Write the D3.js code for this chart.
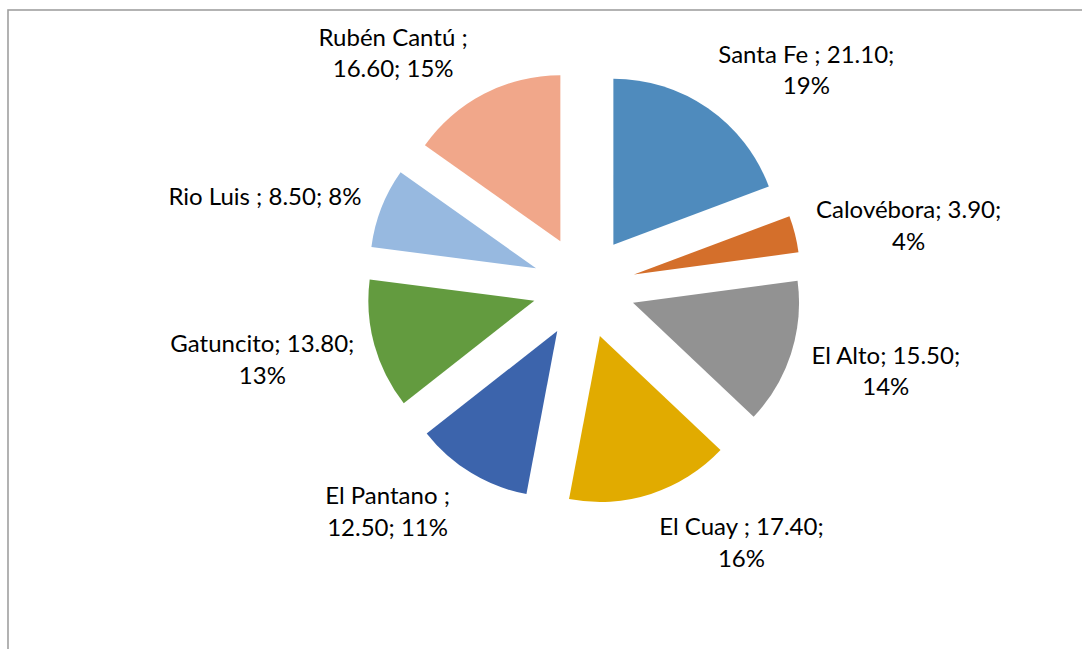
<!DOCTYPE html>
<html>
<head>
<meta charset="utf-8">
<script src="https://cdn.jsdelivr.net/npm/d3@7"></script>
<style>
  body { margin: 0; background: #fff; }
  svg { display: block; }
</style>
</head>
<body>
<svg id="chart"></svg>
<script>
// data
var names = ["Santa Fe ", "Calovébora", "El Alto", "El Cuay ", "El Pantano ", "Gatuncito", "Rio Luis ", "Rubén Cantú "];
var values = [21.10, 3.90, 15.50, 17.40, 12.50, 13.80, 8.50, 16.60];
var colors = ["#4f8bbd", "#d46f2b", "#929292", "#e1ab00", "#3c64ac", "#639b3f", "#97b9e0", "#f1a78a"];

// label layout: how many "; " pieces go on the first line, and small angle nudges (deg)
var firstLine = [2, 2, 2, 2, 1, 2, 3, 1];
var nudge = [5.8, 1, 0, -9.7, 7, 0, -1, -8];

var width = 1082, height = 649;
var cx = 584, cy = 287, radius = 166, explode = 51.5;

var svg = d3.select("#chart")
    .attr("width", width)
    .attr("height", height);

// chart area border
svg.append("rect")
    .attr("x", 8)
    .attr("y", 10)
    .attr("width", width)
    .attr("height", height)
    .style("fill", "none")
    .style("stroke", "#a0a0a0")
    .style("stroke-width", 1.6);

var total = d3.sum(values);
var pie = d3.pie().sort(null).value(function(d){ return d; });
var arcs = pie(values);
var arc = d3.arc().innerRadius(0).outerRadius(radius);

var g = svg.append("g").attr("transform", "translate(" + cx + "," + cy + ")");

g.selectAll("path")
    .data(arcs)
    .enter()
    .append("path")
    .attr("d", arc)
    .attr("transform", function(d){
        var a = (d.startAngle + d.endAngle) / 2;
        return "translate(" + (explode * Math.sin(a)) + "," + (-explode * Math.cos(a)) + ")";
    })
    .style("fill", function(d, i){ return colors[i]; });

// data labels
var lineH = 31.5;
arcs.forEach(function(d, i){
    var pct = Math.round(values[i] / total * 100) + "%";
    var parts = [names[i], values[i].toFixed(2), pct];
    var lines = [];
    var n = firstLine[i];
    lines.push(parts.slice(0, n).join("; ") + (n < 3 ? ";" : ""));
    if (n < 3) lines.push(parts.slice(n).join("; "));

    var t = g.append("text")
        .style("font-family", "Lato, 'Open Sans', sans-serif")
        .style("font-size", "24px")
        .style("fill", "#000")
        .attr("text-anchor", "middle");
    lines.forEach(function(l){
        t.append("tspan").attr("x", 0).attr("dy", 0).text(l);
    });
    var w = t.node().getBBox().width;
    var h = lines.length * lineH;

    var a = (d.startAngle + d.endAngle) / 2 + nudge[i] * Math.PI / 180;
    var R = 235 + 25 * Math.abs(Math.cos(a));
    var px = R * Math.sin(a) + w / 2 * Math.sin(a);
    var py = -R * Math.cos(a) - h / 2 * Math.cos(a);

    t.selectAll("tspan")
        .attr("x", px)
        .attr("y", function(l, j){ return py + (j - (lines.length - 1) / 2) * lineH; })
        .attr("dy", "0.35em");
});
</script>
</body>
</html>
